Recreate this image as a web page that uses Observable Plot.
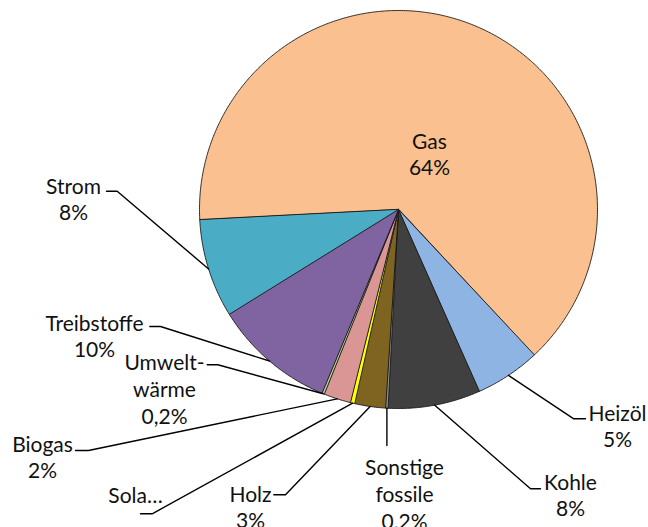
<!DOCTYPE html>
<html><head><meta charset="utf-8">
<script src="https://cdn.jsdelivr.net/npm/d3@7"></script>
<script src="https://cdn.jsdelivr.net/npm/@observablehq/plot@0.6"></script>
<style>html,body{margin:0;padding:0;background:#fff}</style>
</head><body><div id="chart"></div>
<script>
// ---- data ----
const categories = ["Gas","Heizöl","Kohle","Sonstige fossile","Holz","Solarthermie","Biogas","Umweltwärme","Treibstoffe","Strom"];
const shares = [63.9, 5.3, 7.5, 0.2, 2.5, 0.35, 2.2, 0.2, 9.9, 8.0];
const labelTexts = ["Gas\n64%","Heizöl\n5%","Kohle\n8%","Sonstige\nfossile\n0,2%","Holz\n3%","Sola…","Biogas\n2%","Umwelt-\nwärme\n0,2%","Treibstoffe\n10%","Strom\n8%"];
const sliceColors = ["#FAC090","#8EB4E3","#404040","#8C8C8C","#7F6321","#FFFF00","#D99694","#B9CB92","#8064A2","#4BACC6"];

// ---- layout (pixel units of the plot frame) ----
const W = 648, H = 527, CX = 398, CY = 209, R = 199, START_DEG = 267;
// label block centres
const labelX = [429, 617, 570, 404, 250, 135, 42, 164, 94, 73];
const labelY = [153, 425, 494, 493, 506, 494, 456, 388, 335, 198];
// leader line: outer end (near text) and elbow; null = no leader
const leadEnd   = [null, [585,418.3], [540,488.3], null, [273.3,494.3], [140,513.3], [75,450], [206.7,364.3], [149.3,326], [106,190.7]];
const leadElbow = [null, [573.3,418.3], [530,488.3], [null,445], [285,494.3], [151.7,513.3], [88,450], [217.3,364.3], [160,326], [116.7,190.7]];

const a0 = START_DEG * Math.PI / 180;
const arcs = d3.pie().sort(null).startAngle(a0).endAngle(a0 + 2 * Math.PI)(shares);

const slicePts = [];
arcs.forEach((a, i) => {
  const cat = categories[i];
  slicePts.push({cat, x: CX, y: CY});
  const n = Math.max(2, Math.ceil((a.endAngle - a.startAngle) / (Math.PI / 360)));
  for (let k = 0; k <= n; k++) {
    const t = a.startAngle + (a.endAngle - a.startAngle) * k / n;
    slicePts.push({cat, x: CX + R * Math.sin(t), y: CY - R * Math.cos(t)});
  }
});

const leaderPts = [];
arcs.forEach((a, i) => {
  if (!leadElbow[i]) return;
  const cat = categories[i];
  const m = (a.startAngle + a.endAngle) / 2;
  const px = CX + R * Math.sin(m), py = CY - R * Math.cos(m);
  if (leadEnd[i]) leaderPts.push({cat, x: leadEnd[i][0], y: leadEnd[i][1]});
  const ex = leadElbow[i][0] == null ? px : leadElbow[i][0];
  leaderPts.push({cat, x: ex, y: leadElbow[i][1]});
  leaderPts.push({cat, x: px, y: py});
});

const labels = categories.map((c, i) => ({cat: c, text: labelTexts[i], x: labelX[i], y: labelY[i]}));

const chart = Plot.plot({
  width: W, height: H, margin: 0,
  style: {fontFamily: "Lato, 'Open Sans', sans-serif", background: "#fff"},
  x: {domain: [0, W], range: [0, W], axis: null},
  y: {domain: [0, H], range: [0, H], axis: null},
  color: {domain: categories, range: sliceColors},
  marks: [
    Plot.line(slicePts, {x: "x", y: "y", z: "cat", fill: "cat", stroke: "#1a1a1a", strokeWidth: 0.9, curve: "linear-closed"}),
    Plot.line(leaderPts, {x: "x", y: "y", z: "cat", stroke: "#000", strokeWidth: 1.4}),
    Plot.text(labels, {x: "x", y: "y", text: "text", fontSize: 21, lineHeight: 1.27, fill: "#111"})
  ]
});
document.getElementById("chart").appendChild(chart);
</script>
</body></html>
